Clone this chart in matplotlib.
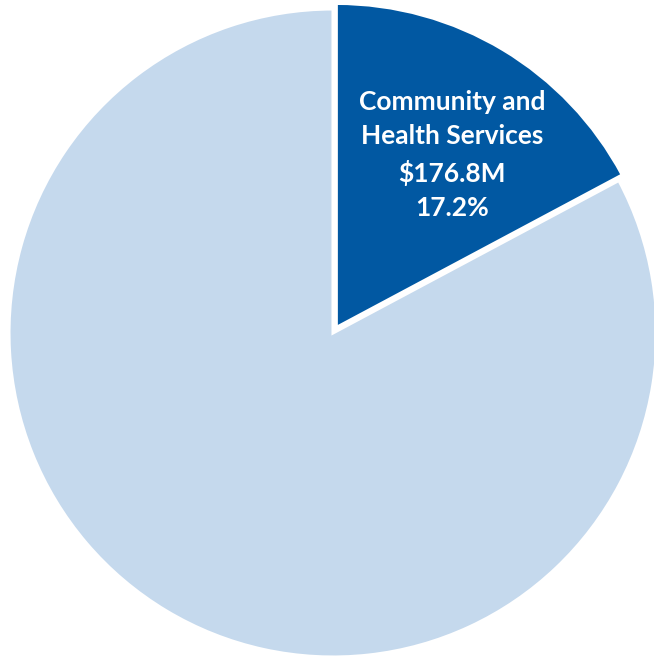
import matplotlib
matplotlib.use("Agg")
import matplotlib.pyplot as plt

# budget share (%), only the highlighted slice is labelled
segments = ["Community and\nHealth Services", "Other"]
shares = [17.2, 82.8]
amount_label = "$176.8M"
colors = ["#0158A2", "#C5D9ED"]
explode = [0.02, 0.0]

fig = plt.figure(figsize=(6.54, 6.57), dpi=100)
ax = fig.add_axes([0, 0, 1, 1])

wedges, _ = ax.pie(shares, colors=colors, explode=explode, startangle=90,
                   counterclock=False, radius=1.0,
                   wedgeprops=dict(edgecolor="white", linewidth=2.2))

# pixel based limits: centre at (333, 333) px, radius 324 px
r_px = 324.0
cx, cy = 333, 333
ax.set_xlim(-cx / r_px, (654 - cx) / r_px)
ax.set_ylim(-(657 - cy) / r_px, cy / r_px)
ax.set_aspect("equal", adjustable="box")
ax.axis("off")

ax.text((452 - cx) / r_px, (cy - 155) / r_px,
        f"{segments[0]}\n{amount_label}\n{shares[0]:.1f}%",
        ha="center", va="center", color="white", fontsize=19,
        fontweight="bold", family="Lato", linespacing=1.5)

fig.savefig("out.png", dpi=100)
